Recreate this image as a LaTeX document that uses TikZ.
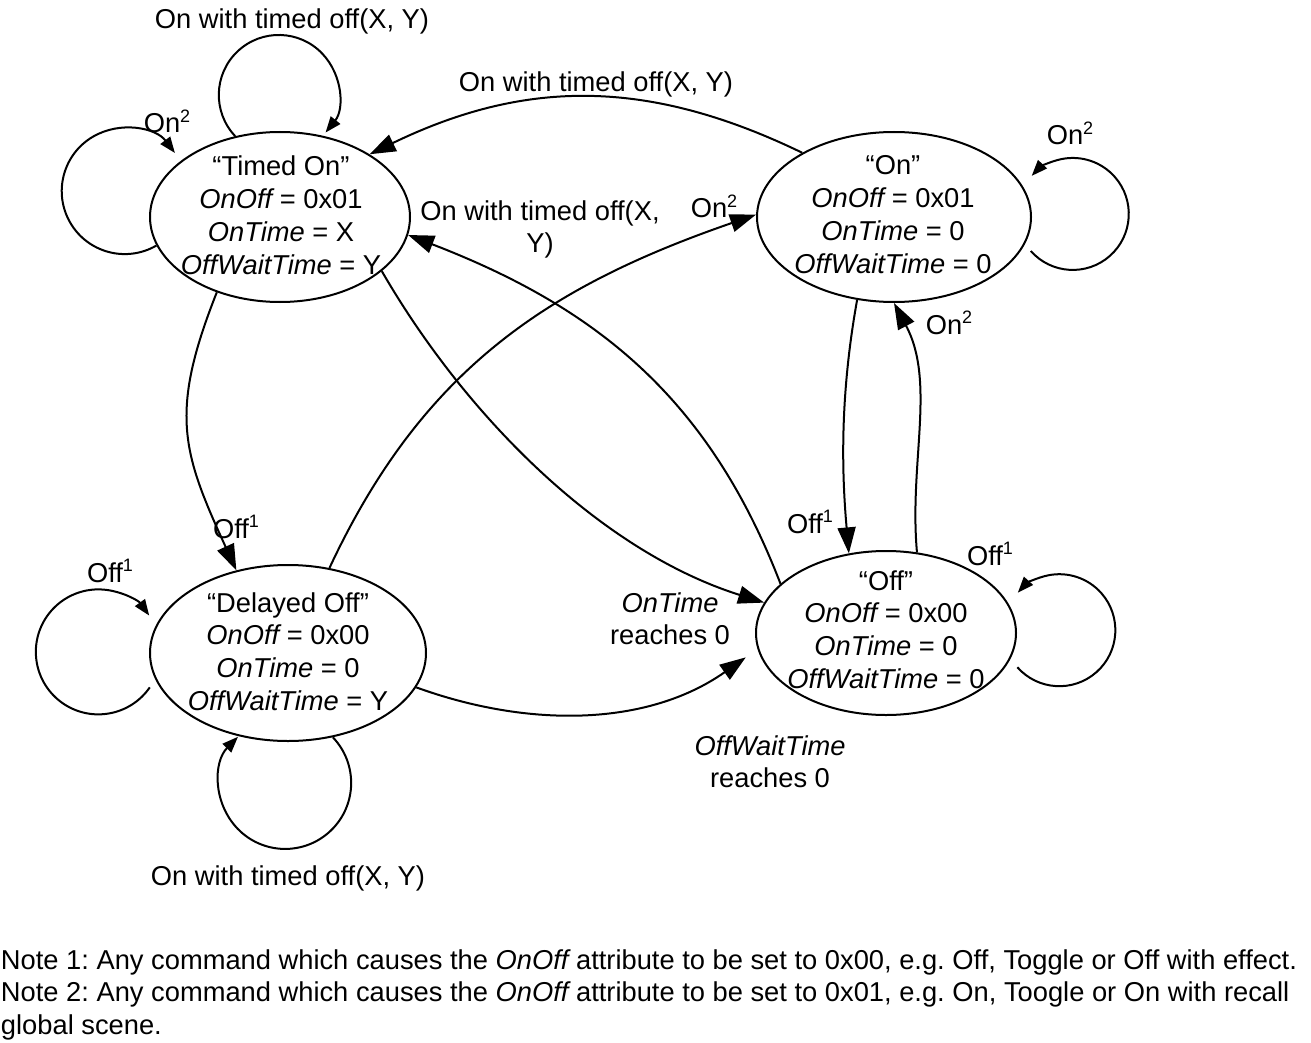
\documentclass[tikz,border=0pt]{standalone}
\usepackage{fontspec}
\setmainfont{Liberation Sans}
\usetikzlibrary{arrows.meta,shapes.geometric}
\newcommand\ital[1]{{\itshape #1}}
\newcommand\sups[1]{\raisebox{0.40em}{\fontsize{18}{18}\selectfont #1}}
\frenchspacing
\begin{document}
\begin{tikzpicture}[x=1pt,y=-1pt,
  font=\fontsize{27.3}{32.7}\selectfont\frenchspacing,
  line width=2pt,
  state/.style={draw, ellipse, inner sep=0pt, line width=2pt},
  txt/.style={anchor=base, inner sep=0pt},
  big/.style={-{Triangle[length=26pt,width=18pt]}},
  small/.style={-{Triangle[length=16pt,width=12pt]}}]
\useasboundingbox (0,0) rectangle (1311,1043);

% states
\node[state, minimum width=260pt, minimum height=170pt] (ton) at (280,217) {};
\node[state, minimum width=274pt, minimum height=170pt] (on) at (894,217) {};
\node[state, minimum width=276pt, minimum height=176pt] (doff) at (288,653) {};
\node[state, minimum width=260pt, minimum height=164pt] (off) at (886,633) {};

\node[txt] (tontxt) at (281,176) {\begin{tabular}[t]{@{}c@{}}“Timed On”\\\ital{OnOff} = 0x01\\\ital{OnTime} = X\\\ital{OffWaitTime} = Y\end{tabular}};
\node[txt] (ontxt) at (893,175) {\begin{tabular}[t]{@{}c@{}}“On”\\\ital{OnOff} = 0x01\\\ital{OnTime} = 0\\\ital{OffWaitTime} = 0\end{tabular}};
\node[txt] (dofftxt) at (288,612) {\begin{tabular}[t]{@{}c@{}}“Delayed Off”\\\ital{OnOff} = 0x00\\\ital{OnTime} = 0\\\ital{OffWaitTime} = Y\end{tabular}};
\node[txt] (offtxt) at (886,590) {\begin{tabular}[t]{@{}c@{}}“Off”\\\ital{OnOff} = 0x00\\\ital{OnTime} = 0\\\ital{OffWaitTime} = 0\end{tabular}};

% self loops
\draw[small] (ton.119) arc[start angle=-223.4, end angle=38.8, radius=60];
\draw[small] (ton.193.8) arc[start angle=-300.2, end angle=-37.2, radius=63];
\draw[small] ([xshift=-10pt]doff.195) arc[start angle=-325.4, end angle=-35.5, radius=62.5];
\draw[small] (doff.-62.6) arc[start angle=-43.8, end angle=224.4, radius=66];
\draw[small] ([xshift=10pt]on.-15) arc[start angle=-221.4, end angle=-497.2, radius=56];
\draw[small] ([xshift=12pt]off.-16) arc[start angle=-221.4, end angle=-497.9, radius=56];

% transitions
\draw[big] (on.145.9) .. controls +(-155,-75) and +(155,-75) .. (ton.35.2);
\draw[big] (off.155) .. controls +(-72,-187) and +(187,72) .. (ton.-8);
\draw[big] (doff.64.8) .. controls +(93,-199) and +(-208,72) .. (on.179);
\draw[big] (ton.230) .. controls +(-48,121) and +(-54,-118) .. (doff.122.9);
\draw[big] (ton.-28.8) .. controls +(85,147) and +(-162,-51) .. (off.166);
\draw[big] (doff.-15) .. controls +(113,41) and +(-98,69) .. ([xshift=-15pt]off.-169);
\draw[big] (on.-114) .. controls +(-16,89) and +(-8,-90) .. (off.115);
\draw[big] (off.69) .. controls +(-8,-90) and +(42,79) .. (on.-90);

% labels
\node[txt] (l1) at (292,29) {On with timed off(X, Y)};
\node[txt] (l2) at (167,133) {On\sups{2}};
\node[txt] (l3) at (596,92) {On with timed off(X, Y)};
\node[txt] (l4) at (540,220) {\begin{tabular}[t]{@{}c@{}}On with timed off(X,\\Y)\end{tabular}};
\node[txt] (l5) at (714,218) {On\sups{2}};
\node[txt] (l6) at (1070,145) {On\sups{2}};
\node[txt] (l7) at (949,334) {On\sups{2}};
\node[txt] (l8) at (810,533) {Off\sups{1}};
\node[txt] (l9) at (990,565) {Off\sups{1}};
\node[txt] (l10) at (236,538) {Off\sups{1}};
\node[txt] (l11) at (110,582) {Off\sups{1}};
\node[txt] (l12) at (288,885) {On with timed off(X, Y)};
\node[txt] (l13) at (670,612) {\begin{tabular}[t]{@{}c@{}}\ital{OnTime}\\reaches 0\end{tabular}};
\node[txt] (l14) at (770,755) {\begin{tabular}[t]{@{}c@{}}\ital{OffWaitTime}\\reaches 0\end{tabular}};

% notes
\node[txt, anchor=base west] (notes) at (0,969) {\begin{tabular}[t]{@{}l@{}}Note 1: Any command which causes the \ital{OnOff} attribute to be set to 0x00, e.g. Off, Toggle or Off with effect.\\Note 2: Any command which causes the \ital{OnOff} attribute to be set to 0x01, e.g. On, Toogle or On with recall\\global scene.\end{tabular}};
\end{tikzpicture}
\end{document}
